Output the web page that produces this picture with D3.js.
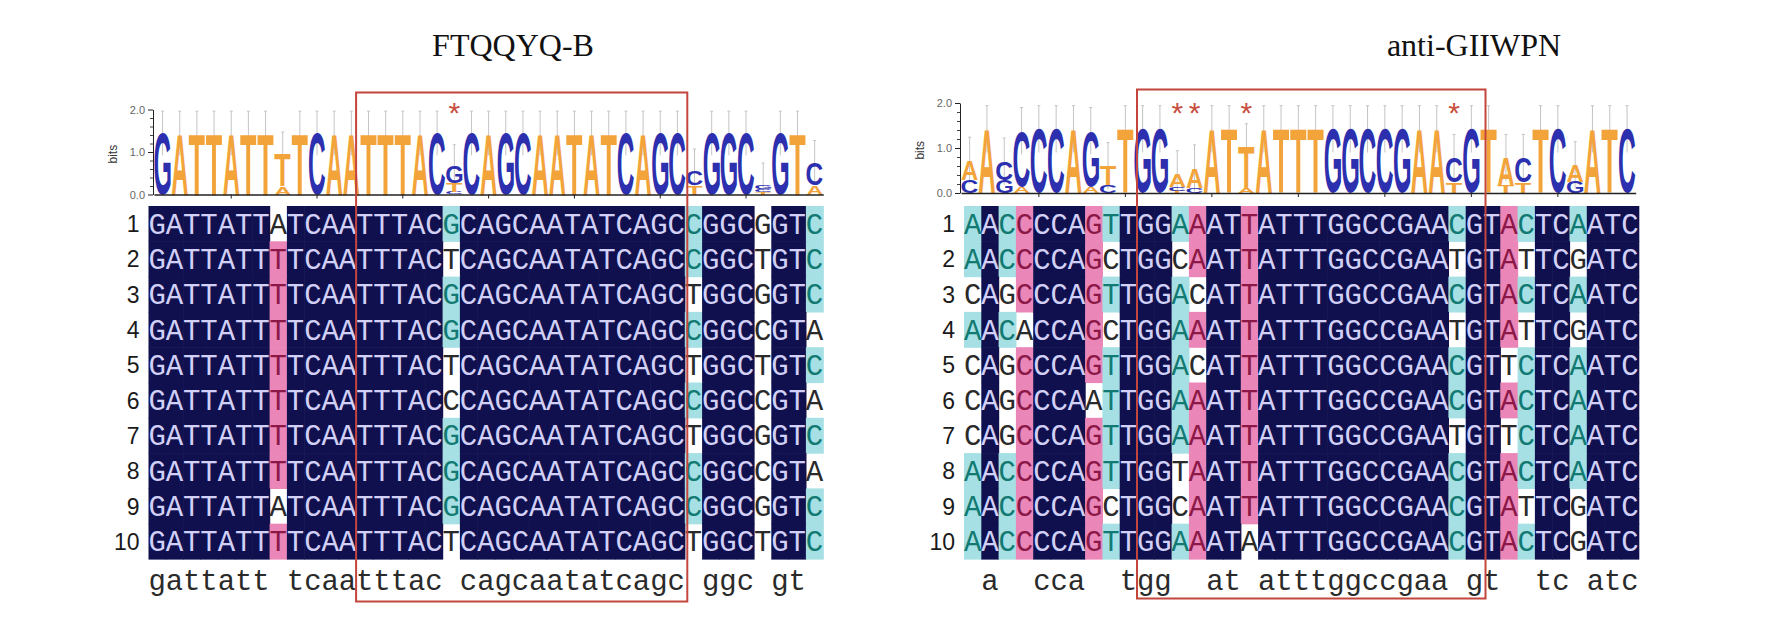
<!DOCTYPE html>
<html><head><meta charset="utf-8">
<script src="https://cdn.jsdelivr.net/npm/d3@7"></script>
<style>body{margin:0;background:#fff}svg{display:block}</style>
</head><body>
<svg id="chart" width="1769" height="640"></svg>
<script>
// ---------------- data ----------------
const titles = ["FTQQYQ-B", "anti-GIIWPN"];
const rowLabels = ["1","2","3","4","5","6","7","8","9","10"];

const seqsFTQQYQ = [
  "GATTATTATCAATTTACGCAGCAATATCAGCCGGCGGTC",
  "GATTATTTTCAATTTACTCAGCAATATCAGCCGGCTGTC",
  "GATTATTTTCAATTTACGCAGCAATATCAGCTGGCGGTC",
  "GATTATTTTCAATTTACGCAGCAATATCAGCCGGCCGTA",
  "GATTATTTTCAATTTACTCAGCAATATCAGCTGGCTGTC",
  "GATTATTTTCAATTTACCCAGCAATATCAGCCGGCCGTA",
  "GATTATTTTCAATTTACGCAGCAATATCAGCTGGCGGTC",
  "GATTATTTTCAATTTACGCAGCAATATCAGCCGGCCGTA",
  "GATTATTATCAATTTACGCAGCAATATCAGCCGGCGGTC",
  "GATTATTTTCAATTTACTCAGCAATATCAGCTGGCTGTC"
];
const seqsGIIWPN = [
  "AACCCCAGTTGGAAATTATTTGGCCGAACGTACTCAATC",
  "AACCCCAGCTGGCAATTATTTGGCCGAATGTATTCGATC",
  "CAGCCCAGTTGGACATTATTTGGCCGAACGTACTCAATC",
  "AACACCAGCTGGAAATTATTTGGCCGAATGTATTCGATC",
  "CAGCCCAGTTGGACATTATTTGGCCGAACGTTCTCAATC",
  "CAGCCCAATTGGAAATTATTTGGCCGAACGTACTCAATC",
  "CAGCCCAGTTGGAAATTATTTGGCCGAATGTTCTCAATC",
  "AACCCCAGTTGGTAATTATTTGGCCGAACGTACTCAATC",
  "AACCCCAGCTGGCAATTATTTGGCCGAACGTATTCGATC",
  "AACCCCAGTTGGAAATAATTTGGCCGAACGTACTCGATC"
];
// logo stack heights (bits), one per column
const bitsFTQQYQ = [1.44,1.44,1.44,1.44,1.44,1.44,1.44,0.95,1.44,1.44,
                    1.44,1.44,1.44,1.44,1.44,1.44,1.44,0.65,1.44,1.44,
                    1.44,1.44,1.44,1.44,1.44,1.44,1.44,1.44,1.44,1.44,
                    1.44,0.55,1.44,1.44,1.44,0.22,1.44,1.44,0.75];
const bitsGIIWPN = [0.72,1.42,0.70,1.38,1.42,1.42,1.42,1.38,0.60,1.42,
                    1.42,1.42,0.42,0.55,1.42,1.42,1.02,1.42,1.42,1.42,
                    1.42,1.42,1.42,1.42,1.42,1.42,1.42,1.42,0.78,1.42,
                    1.42,0.78,0.78,1.42,1.42,0.62,1.42,1.42,1.42];
const starsFTQQYQ = [18];
const starsGIIWPN = [13, 14, 17, 29];
const boxFTQQYQ = [13, 31];
const boxGIIWPN = [11, 30];
const bitsMajorTicks = [0, 1, 2];
const bitsMinorTicks = [0.2, 0.4, 0.6, 0.8, 1.2, 1.4, 1.6, 1.8];

// ---------------- layout / style ----------------
const panels = [
  {title: titles[0], seqs: seqsFTQQYQ, bits: bitsFTQQYQ, stars: starsFTQQYQ, box: boxFTQQYQ,
   titleX: 513, x0: 148.5, cw: 17.3, logoX0: 154, logoCw: 17.16, logoBase: 194.5, logoTop: 109.5,
   boxTop: 92.5, boxBottom: 601.5},
  {title: titles[1], seqs: seqsGIIWPN, bits: bitsGIIWPN, stars: starsGIIWPN, box: boxGIIWPN,
   titleX: 1474, x0: 964, cw: 17.3, logoX0: 961, logoCw: 17.3, logoBase: 193, logoTop: 103,
   boxTop: 89.5, boxBottom: 598.5}
];
const rowTop = 206, rowH = 35.3;
const C_NAVY = "#10104f", C_PINK = "#ea86b8", C_CYAN = "#a6e0e4";
const TXT = {navy: "#d2d0f6", pink: "#8b1847", cyan: "#127a72", none: "#2a2a2a"};
const LOGO_COL = {A: "#f2a33a", T: "#f2a33a", C: "#2c2fae", G: "#2c2fae"};
const RED = "#c4453c";
const ERR = 0.52;

const svg = d3.select("#chart");
const cvs = document.createElement("canvas").getContext("2d");
function measure(font, ch) {
  cvs.font = font;
  const m = cvs.measureText(ch);
  return {l: m.actualBoundingBoxLeft, r: m.actualBoundingBoxRight,
          a: m.actualBoundingBoxAscent, d: m.actualBoundingBoxDescent};
}
const LOGO_FONT = "bold 100px 'Liberation Sans'";
const glyph = {};
"ACGT".split("").forEach(c => glyph[c] = measure(LOGO_FONT, c));
const MONO_FS = 29;
const monoCap = measure(`${MONO_FS}px 'Liberation Mono'`, "H").a;
const numFS = 23;
const numCap = measure(`${numFS}px 'Liberation Sans'`, "8").a;
const starFS = 30;
const starM = measure(`${starFS}px 'Liberation Sans'`, "*");

panels.forEach(p => {
  const n = p.seqs[0].length;
  const cols = d3.range(n);
  const g = svg.append("g");

  // title
  g.append("text").attr("x", p.titleX).attr("y", 56)
    .attr("text-anchor", "middle")
    .style("font-family", "'Liberation Serif', serif").style("font-size", "32px")
    .attr("fill", "#111").text(p.title);

  // scales
  const xa = d3.scaleBand().domain(cols).range([p.x0, p.x0 + n * p.cw]).padding(0);
  const xl = d3.scaleBand().domain(cols).range([p.logoX0, p.logoX0 + n * p.logoCw]).padding(0);
  const yb = d3.scaleLinear().domain([0, 2]).range([p.logoBase, p.logoTop]);
  const yr = d3.scaleBand().domain(d3.range(p.seqs.length)).range([rowTop, rowTop + rowH * p.seqs.length]);

  // column statistics
  const stats = cols.map(c => d3.rollup(p.seqs, v => v.length, s => s[c]));
  const N = p.seqs.length;

  // ---- logo ----
  const lg = g.append("g");
  // error bars
  cols.forEach(c => {
    const cx = xl(c) + xl.bandwidth() / 2;
    const top = Math.min(p.bits[c] + ERR, 1.98);
    lg.append("line").attr("x1", cx).attr("x2", cx)
      .attr("y1", yb(Math.max(p.bits[c] - ERR, 0))).attr("y2", yb(top))
      .attr("stroke", "#c4c4c4").attr("stroke-width", 1);
    lg.append("line").attr("x1", cx - 1.5).attr("x2", cx + 1.5)
      .attr("y1", yb(top)).attr("y2", yb(top))
      .attr("stroke", "#c4c4c4").attr("stroke-width", 1);
  });
  // letters
  cols.forEach(c => {
    const entries = Array.from(stats[c].entries()).sort((a, b) => a[1] - b[1]);
    let base = 0;
    const tw = xl.bandwidth() * 0.94;
    const xLeft = xl(c) + (xl.bandwidth() - tw) / 2;
    entries.forEach(([ch, k]) => {
      const h = p.bits[c] * k / N;
      const yBottom = yb(base), yTopPx = yb(base + h);
      const th = yBottom - yTopPx;
      base += h;
      if (th < 0.4) return;
      const m = glyph[ch];
      const iw = m.l + m.r, ih = m.a + m.d;
      lg.append("text")
        .attr("transform", `translate(${xLeft},${yBottom}) scale(${tw / iw},${th / ih})`)
        .attr("x", m.l).attr("y", -m.d)
        .style("font-family", "'Liberation Sans', Arial, sans-serif")
        .style("font-weight", "bold").style("font-size", "100px")
        .attr("fill", LOGO_COL[ch]).text(ch);
    });
  });
  // axes
  const axX = p.logoX0 - 1;
  const yAxis = d3.axisLeft(yb).tickValues(bitsMajorTicks).tickSize(5).tickSizeOuter(0)
    .tickFormat(d => d.toFixed(1));
  const ya = lg.append("g").attr("transform", `translate(${axX},0)`).call(yAxis);
  ya.select(".domain").attr("stroke", "#222");
  ya.selectAll(".tick line").attr("stroke", "#222");
  ya.selectAll(".tick text").attr("fill", "#666")
    .style("font-family", "'Liberation Sans', sans-serif").style("font-size", "11px");
  const yMinor = d3.axisLeft(yb).tickValues(bitsMinorTicks).tickSize(3).tickSizeOuter(0).tickFormat("");
  const ym = lg.append("g").attr("transform", `translate(${axX},0)`).call(yMinor);
  ym.select(".domain").remove();
  ym.selectAll(".tick line").attr("stroke", "#444");
  lg.append("text")
    .attr("transform", `translate(${axX - 36},${yb(0.95)}) rotate(-90)`)
    .attr("text-anchor", "middle")
    .style("font-family", "'Liberation Sans', sans-serif").style("font-size", "12px")
    .attr("fill", "#333").text("bits");
  // baseline x axis
  const xAxis = d3.axisBottom(xl).tickValues(cols.filter(c => (c + 1) % 5 === 0))
    .tickSize(4).tickSizeOuter(0).tickFormat("");
  const xg = lg.append("g").attr("transform", `translate(0,${yb(0)})`).call(xAxis);
  xg.select(".domain").attr("stroke", "#222").attr("stroke-width", 1.3);
  xg.selectAll(".tick line").attr("stroke", "#222");

  // ---- alignment ----
  const ag = g.append("g");
  const clsOf = (ch, c) => {
    const f = stats[c].get(ch) / N;
    return f === 1 ? "navy" : f >= 0.75 ? "pink" : f >= 0.5 ? "cyan" : "none";
  };
  p.seqs.forEach((s, r) => {
    s.split("").forEach((ch, c) => {
      const cls = clsOf(ch, c);
      if (cls !== "none") {
        ag.append("rect").attr("x", xa(c)).attr("y", yr(r))
          .attr("width", xa.bandwidth() + 0.6).attr("height", yr.bandwidth() + 0.6)
          .attr("fill", cls === "navy" ? C_NAVY : cls === "pink" ? C_PINK : C_CYAN);
      }
    });
  });
  p.seqs.forEach((s, r) => {
    s.split("").forEach((ch, c) => {
      const cls = clsOf(ch, c);
      ag.append("text").attr("x", xa(c) + xa.bandwidth() / 2)
        .attr("y", yr(r) + yr.bandwidth() / 2 + monoCap / 2)
        .attr("text-anchor", "middle")
        .style("font-family", "'Liberation Mono', monospace").style("font-size", MONO_FS + "px")
        .attr("fill", TXT[cls]).text(ch);
    });
    // row label
    ag.append("text").attr("x", p.x0 - 9).attr("y", yr(r) + yr.bandwidth() / 2 + numCap / 2)
      .attr("text-anchor", "end")
      .style("font-family", "'Liberation Sans', Arial, sans-serif").style("font-size", numFS + "px")
      .attr("fill", "#1a1a1a").text(rowLabels[r]);
  });
  // consensus line
  cols.forEach(c => {
    const ent = Array.from(stats[c].entries());
    if (ent.length === 1) {
      ag.append("text").attr("x", xa(c) + xa.bandwidth() / 2)
        .attr("y", rowTop + rowH * N + 31)
        .attr("text-anchor", "middle")
        .style("font-family", "'Liberation Mono', monospace").style("font-size", MONO_FS + "px")
        .attr("fill", "#2a2a2a").text(ent[0][0].toLowerCase());
    }
  });

  // ---- red box ----
  const bx1 = xa(p.box[0] - 1), bx2 = xa(p.box[1] - 1) + xa.bandwidth() + 2.5;
  g.append("rect").attr("x", bx1).attr("y", p.boxTop)
    .attr("width", bx2 - bx1).attr("height", p.boxBottom - p.boxTop)
    .attr("fill", "none").attr("stroke", RED).attr("stroke-width", 2);

  // ---- asterisks ----
  p.stars.forEach(c => {
    const cx = xl(c - 1) + xl.bandwidth() / 2;
    const base = 108 + (starM.a - starM.d) / 2;
    g.append("text").attr("x", cx).attr("y", base).attr("text-anchor", "middle")
      .style("font-family", "'Liberation Sans', sans-serif").style("font-size", starFS + "px")
      .attr("fill", "#c8503f").text("*");
  });
});
</script>
</body></html>
